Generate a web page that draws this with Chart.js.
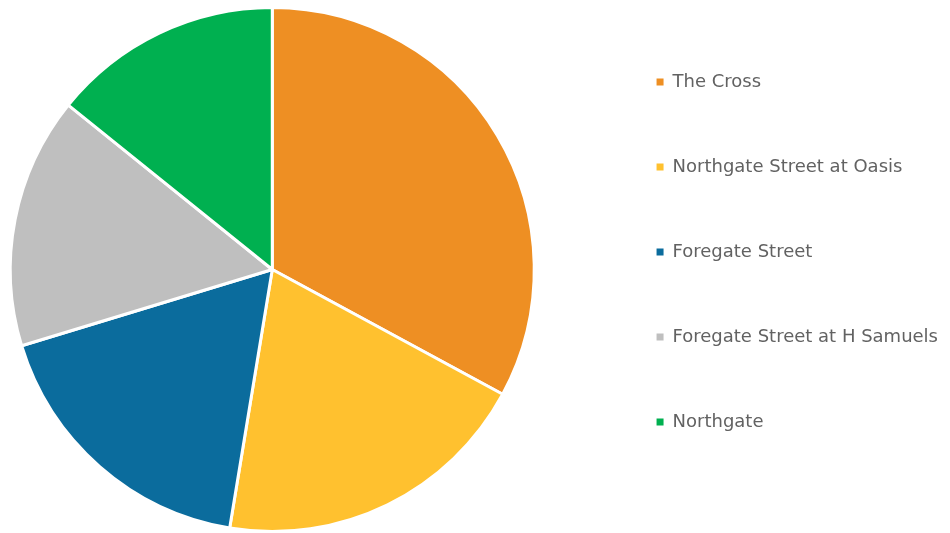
<!DOCTYPE html>
<html>
<head>
<meta charset="utf-8">
<script src="https://cdn.jsdelivr.net/npm/chart.js@4.4.1/dist/chart.umd.min.js"></script>
<style>
  html, body { margin: 0; padding: 0; background: #fff; }
  #wrap { width: 950px; height: 533px; position: relative; }
</style>
</head>
<body>
<div id="wrap"><canvas id="chart"></canvas></div>
<script>
// Share of footfall by counting site - pie
const sites = ['The Cross', 'Northgate Street at Oasis', 'Foregate Street', 'Foregate Street at H Samuels', 'Northgate'];
const shares = [32.9, 19.7, 17.7, 15.5, 14.2];
const colours = ['#EE8F23', '#FFC12F', '#0B6C9D', '#BFBFBF', '#00B050'];

// legend sits further right than chart.js would put it: nudge it after layout
const legendNudge = {
  id: 'legendNudge',
  afterLayout(chart) {
    const lg = chart.legend;
    lg.left += 45;
    lg.right += 45;
  }
};

const ctx = document.getElementById('chart').getContext('2d');
new Chart(ctx, {
  type: 'pie',
  data: {
    labels: sites,
    datasets: [{ data: shares, backgroundColor: colours, borderColor: '#ffffff', borderWidth: 3 }]
  },
  options: {
    responsive: true, maintainAspectRatio: false, animation: false,
    layout: { padding: { left: 0, right: 47, top: 6, bottom: 0 } },
    plugins: {
      tooltip: { enabled: false },
      legend: {
        position: 'right', align: 'start',
        labels: {
          boxWidth: 7, boxHeight: 7, padding: 67,
          color: '#626262',
          font: { family: '"DejaVu Sans", sans-serif', size: 18 },
          // plain filled squares, no white slice border round them
          generateLabels: (chart) => Chart.overrides.pie.plugins.legend.labels.generateLabels(chart)
            .map(item => ({ ...item, lineWidth: 0 }))
        }
      }
    }
  },
  plugins: [legendNudge]
});
</script>
</body>
</html>
